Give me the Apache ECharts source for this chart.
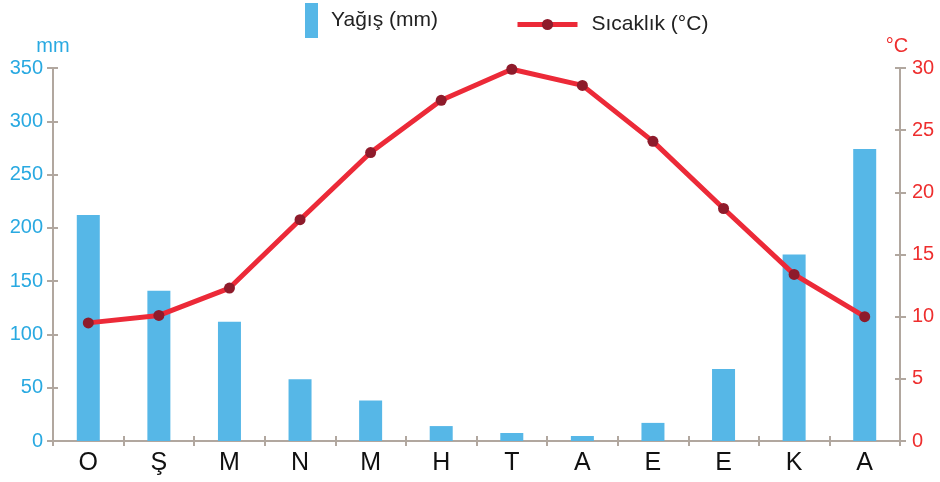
<!DOCTYPE html>
<html lang="tr">
<head>
    <meta charset="UTF-8">
    <title>Yağış ve Sıcaklık</title>
    <style>
        html, body { margin: 0; padding: 0; background: #fff; }
        #chart { width: 940px; height: 482px; }
    </style>
</head>
<body>
<div id="chart"></div>
<script src="https://cdn.jsdelivr.net/npm/echarts@6/dist/echarts.min.js"></script>
<script>
    // aylar
    const months = ['O', 'Ş', 'M', 'N', 'M', 'H', 'T', 'A', 'E', 'E', 'K', 'A'];
    // yağış (mm)
    const rain = [212, 141, 112, 58, 38, 14, 7.5, 4.7, 17, 67.5, 175, 274];
    // sıcaklık (°C)
    const temp = [9.5, 10.1, 12.3, 17.8, 23.2, 27.4, 29.9, 28.6, 24.1, 18.7, 13.4, 10.0];

    const axisGray = '#b1a79f';
    const blue = '#56b7e7';
    const red = '#ec2a38';

    const chart = echarts.init(document.getElementById('chart'));

    /* ortak eksen ayarları */
    function yAx(pos, min, max, interval, opts) {
        return Object.assign({
            type: 'value',
            position: pos,
            min: min,
            max: max,
            interval: interval,
            splitLine: { show: false },
            axisLine: { show: true, lineStyle: { color: axisGray, width: 2 } },
            axisTick: { show: true, length: 6, lineStyle: { color: axisGray, width: 2 } }
        }, opts);
    }

    const option = {
        animation: false,
        textStyle: { fontFamily: 'Liberation Sans, Arial, sans-serif' },
        grid: { left: 53, right: 40, top: 68, bottom: 41 },
        legend: [{
            data: [{ name: 'Yağış (mm)', icon: 'rect' }],
            left: 300,
            top: -2,
            itemWidth: 13,
            itemHeight: 35,
            itemGap: 10,
            textStyle: { fontSize: 21, color: '#222', padding: [6, 0, 0, 8] }
        }, {
            data: ['Sıcaklık (°C)'],
            left: 510,
            top: 9,
            itemWidth: 60,
            itemHeight: 14,
            itemGap: 13,
            lineStyle: { width: 5 },
            textStyle: { fontSize: 21, color: '#222', padding: [2, 0, 0, 9] }
        }],
        xAxis: [{
            type: 'category',
            data: months,
            axisLine: { lineStyle: { color: axisGray, width: 2 } },
            axisTick: { show: true, length: 5, lineStyle: { color: axisGray, width: 2 } },
            axisLabel: { color: '#111', fontSize: 25, margin: 10 }
        }, {
            type: 'category',
            data: months,
            position: 'bottom',
            axisLine: { show: false },
            axisTick: { show: true, inside: true, length: 5, lineStyle: { color: axisGray, width: 2 } },
            axisLabel: { show: false }
        }],
        yAxis: [
            yAx('left', 0, 350, 50, {
                name: 'mm',
                nameGap: 12,
                nameTextStyle: { color: '#29a9e1', fontSize: 20, align: 'center' },
                axisLabel: { color: '#29a9e1', fontSize: 20, margin: 10 }
            }),
            yAx('right', 0, 30, 5, {
                name: '°C',
                nameGap: 12,
                nameTextStyle: { color: '#ee2e2e', fontSize: 20, align: 'center', padding: [0, 6, 0, 0] },
                axisLabel: { color: '#ee2e2e', fontSize: 20, margin: 12 }
            }),
            yAx('left', 0, 350, 50, {
                axisLine: { show: false },
                axisTick: { show: true, inside: true, length: 5, lineStyle: { color: axisGray, width: 2 } },
                axisLabel: { show: false }
            }),
            yAx('right', 0, 30, 5, {
                axisLine: { show: false },
                axisTick: { show: true, inside: true, length: 5, lineStyle: { color: axisGray, width: 2 } },
                axisLabel: { show: false }
            })
        ],
        series: [{
            name: 'Yağış (mm)',
            type: 'bar',
            data: rain,
            yAxisIndex: 0,
            barWidth: 23,
            itemStyle: { color: blue }
        }, {
            name: 'Sıcaklık (°C)',
            type: 'line',
            data: temp,
            yAxisIndex: 1,
            symbol: 'circle',
            symbolSize: 11,
            lineStyle: { color: red, width: 5 },
            itemStyle: { color: '#8e1b2b' }
        }]
    };
    chart.setOption(option);
</script>
</body>
</html>
